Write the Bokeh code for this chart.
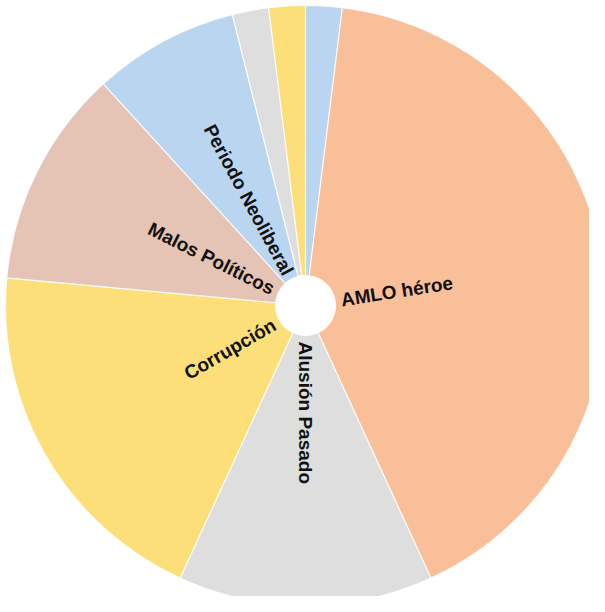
import math
from bokeh.plotting import figure
from bokeh.models import ColumnDataSource
from bokeh.core.properties import value
from bokeh.embed import file_html
from bokeh.resources import INLINE

# Data: slices in clockwise order starting at 12 o'clock
categories = ["Otro 1", "AMLO héroe", "Alusión Pasado", "Corrupción",
              "Malos Políticos", "Periodo Neoliberal", "Otro 2", "Otro 3"]
counts = [1, 21, 7, 10, 6, 4, 1, 1]
labels = ["", "AMLO héroe", "Alusión Pasado", "Corrupción",
          "Malos Políticos", "Periodo Neoliberal", "", ""]
colors = ["#B9D5EF", "#F9BF99", "#DEDEDE", "#FCDF78",
          "#E5C4B5", "#B9D5EF", "#DEDEDE", "#FCDF78"]

W, H = 589, 596
CX, CY = 305, H - 305
R_OUT, R_IN = 300, 30
R_TXT = 36

total = sum(counts)
starts, ends = [], []
acc = 0
for c in counts:
    t1 = acc / total * 2 * math.pi
    acc += c
    t2 = acc / total * 2 * math.pi
    # clockwise from north -> bokeh ccw from +x
    starts.append(math.pi / 2 - t2)
    ends.append(math.pi / 2 - t1)

src = ColumnDataSource(dict(start=starts, end=ends, color=colors, cat=categories))

p = figure(width=W, height=H, x_range=(0, W), y_range=(0, H),
           output_backend="svg", toolbar_location=None, min_border=0,
           match_aspect=False)
p.axis.visible = False
p.grid.visible = False
p.outline_line_color = None
p.background_fill_color = "white"

p.annular_wedge(x=CX, y=CY, inner_radius=R_IN, outer_radius=R_OUT,
                start_angle="start", end_angle="end", color="color",
                line_color="white", line_width=1.2, line_alpha=0.8,
                source=src)

tx, ty, ta, tt, al = [], [], [], [], []
for lab, s, e in zip(labels, starts, ends):
    if not lab:
        continue
    mid = (s + e) / 2
    x = CX + R_TXT * math.cos(mid)
    y = CY + R_TXT * math.sin(mid)
    if math.cos(mid) >= -1e-9:
        ang, align = mid, "left"
    else:
        ang, align = mid + math.pi, "right"
    tx.append(x); ty.append(y); ta.append(ang); tt.append(lab); al.append(align)

tsrc = ColumnDataSource(dict(x=tx, y=ty, a=ta, t=tt, al=al))
p.text(x="x", y="y", text="t", angle="a", text_align="al",
       text_baseline="middle", text_font=value("Liberation Sans"),
       text_font_style="bold", text_font_size="19px", text_color="#111111",
       source=tsrc)

open("out.html", "w").write(file_html(p, INLINE))
